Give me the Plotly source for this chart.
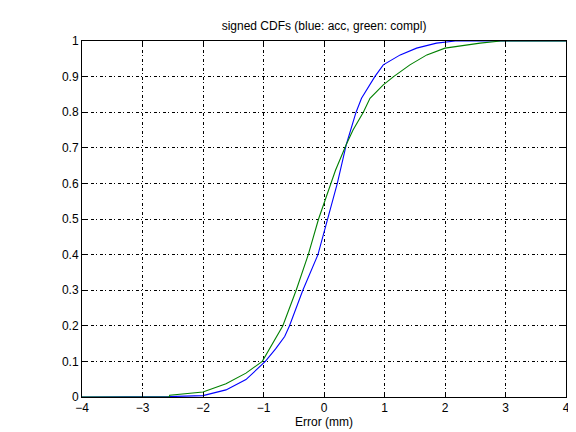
import plotly.graph_objects as go

# Blue: acc
acc_x = [-4.0, -2.56, -2.0, -1.62, -1.29, -0.97, -0.8, -0.65, -0.57, -0.35, -0.10,
         0.066, 0.22, 0.37, 0.53, 0.62, 0.76, 0.84, 0.98, 1.26, 1.53, 1.86, 2.17, 4.0]
acc_y = [0.0, 0.001, 0.004, 0.02, 0.049, 0.1, 0.135, 0.17, 0.2, 0.3, 0.4,
         0.5, 0.6, 0.71, 0.8, 0.839, 0.877, 0.9, 0.933, 0.961, 0.98, 0.994, 1.0, 1.0]

# Green: compl
compl_x = [-4.0, -2.56, -2.55, -2.0, -1.62, -1.29, -1.02, -0.85, -0.68, -0.46, -0.26,
           -0.09, 0.11, 0.19, 0.37, 0.48, 0.65, 0.76, 0.98, 1.15, 1.42, 1.70, 2.0, 2.58, 2.92, 4.0]
compl_y = [0.0, 0.0, 0.005, 0.014, 0.037, 0.067, 0.1, 0.15, 0.2, 0.3, 0.4,
           0.5, 0.6, 0.637, 0.71, 0.75, 0.8, 0.839, 0.877, 0.9, 0.933, 0.961, 0.98, 0.994, 1.0, 1.0]

x_ticks = [-4, -3, -2, -1, 0, 1, 2, 3, 4]
y_ticks = [0, 0.1, 0.2, 0.3, 0.4, 0.5, 0.6, 0.7, 0.8, 0.9, 1]
y_labels = ["0", "0.1", "0.2", "0.3", "0.4", "0.5", "0.6", "0.7", "0.8", "0.9", "1"]

FONT = "Liberation Sans, Arial, sans-serif"

fig = go.Figure()
fig.add_trace(go.Scatter(x=acc_x, y=acc_y, mode="lines",
                         line=dict(color="#0000ff", width=1.1), name="acc"))
fig.add_trace(go.Scatter(x=compl_x, y=compl_y, mode="lines",
                         line=dict(color="#008000", width=1.1), name="compl"))

axis_common = dict(
    showline=True, linecolor="black", linewidth=1, mirror="ticks",
    ticks="inside", ticklen=5, tickcolor="black",
    showgrid=True, gridcolor="black", gridwidth=1, griddash="3px,2px,1px,3px",
    zeroline=False, automargin=False,
    tickfont=dict(family=FONT, size=12, color="black"),
)

# page body has an 8px margin, so the figure is sized/offset to compensate
fig.update_layout(
    width=568, height=424,
    margin=dict(l=74, r=10, t=33, b=35, autoexpand=False),
    paper_bgcolor="white", plot_bgcolor="white",
    showlegend=False,
    title=dict(text="signed CDFs (blue: acc, green: compl)", automargin=False,
               x=0.5, xref="paper", y=1 - 18 / 424, yref="container", yanchor="middle",
               font=dict(family=FONT, size=12, color="black")),
    xaxis=dict(range=[-4, 4], tickvals=x_ticks,
               title=dict(text="Error (mm)", standoff=2,
                          font=dict(family=FONT, size=12, color="black")),
               **axis_common),
    yaxis=dict(range=[0, 1], tickvals=y_ticks, ticktext=y_labels, **axis_common),
)

fig.write_html("out.html")
